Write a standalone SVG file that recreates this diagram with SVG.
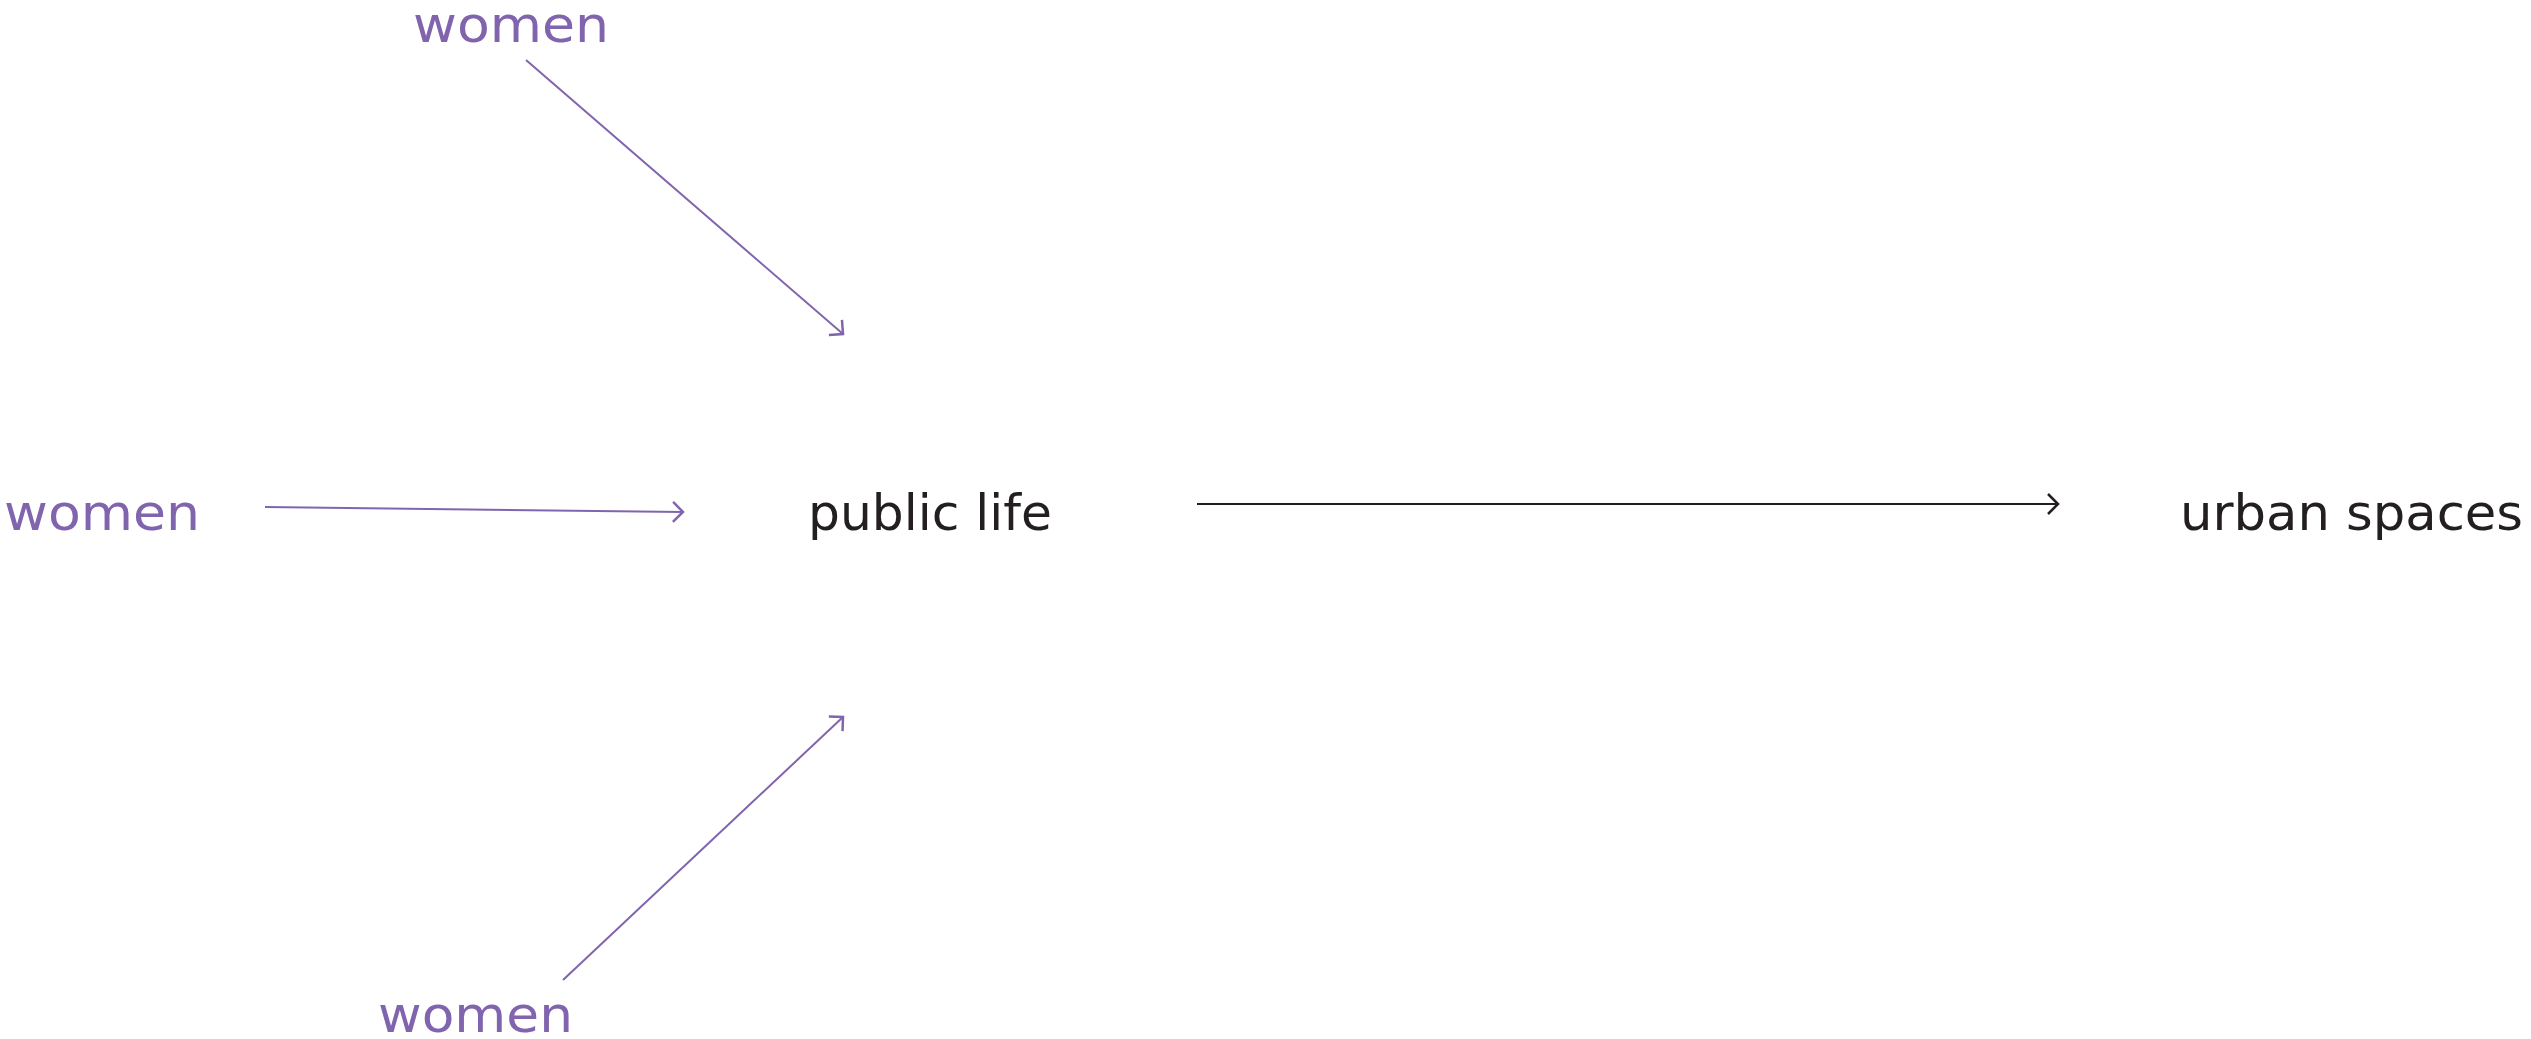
<svg xmlns="http://www.w3.org/2000/svg" width="2531" height="1039" viewBox="0 0 2531 1039">
<style>
text{font-family:"DejaVu Sans","Liberation Sans",sans-serif;font-size:50px;}
.p{fill:#8064AE;}
.k{fill:#231F20;}
.lp{stroke:#8064AE;stroke-width:2;fill:none;}
.lk{stroke:#231F20;stroke-width:2;fill:none;}
</style>
<defs>
<marker id="ap" markerUnits="userSpaceOnUse" markerWidth="30" markerHeight="30" viewBox="-15 -15 30 30" refX="0" refY="0" orient="auto">
<path d="M-10,-10 L0,0 L-10,10" stroke="#8064AE" stroke-width="2.5" fill="none"/>
</marker>
<marker id="ak" markerUnits="userSpaceOnUse" markerWidth="30" markerHeight="30" viewBox="-15 -15 30 30" refX="0" refY="0" orient="auto">
<path d="M-10,-10 L0,0 L-10,10" stroke="#231F20" stroke-width="2.5" fill="none"/>
</marker>
</defs>
<rect width="2531" height="1039" fill="#fff"/>
<g id="women-top"><text class="p" x="413" y="42" textLength="196" lengthAdjust="spacingAndGlyphs">women</text></g>
<g id="women-left"><text class="p" x="4" y="530" textLength="196" lengthAdjust="spacingAndGlyphs">women</text></g>
<g id="women-bottom"><text class="p" x="378" y="1032" textLength="195" lengthAdjust="spacingAndGlyphs">women</text></g>
<g id="public-life"><text class="k" x="808" y="530" textLength="244" lengthAdjust="spacingAndGlyphs">public life</text></g>
<g id="urban-spaces"><text class="k" x="2180" y="530" textLength="343" lengthAdjust="spacingAndGlyphs">urban spaces</text></g>
<g id="connectors">
<line class="lp" x1="526" y1="60" x2="843" y2="334" marker-end="url(#ap)"/>
<line class="lp" x1="265" y1="507" x2="683" y2="512" marker-end="url(#ap)"/>
<line class="lp" x1="563" y1="980" x2="843" y2="717" marker-end="url(#ap)"/>
<line class="lk" x1="1197" y1="504" x2="2058" y2="504" marker-end="url(#ak)"/>
</g>
</svg>
